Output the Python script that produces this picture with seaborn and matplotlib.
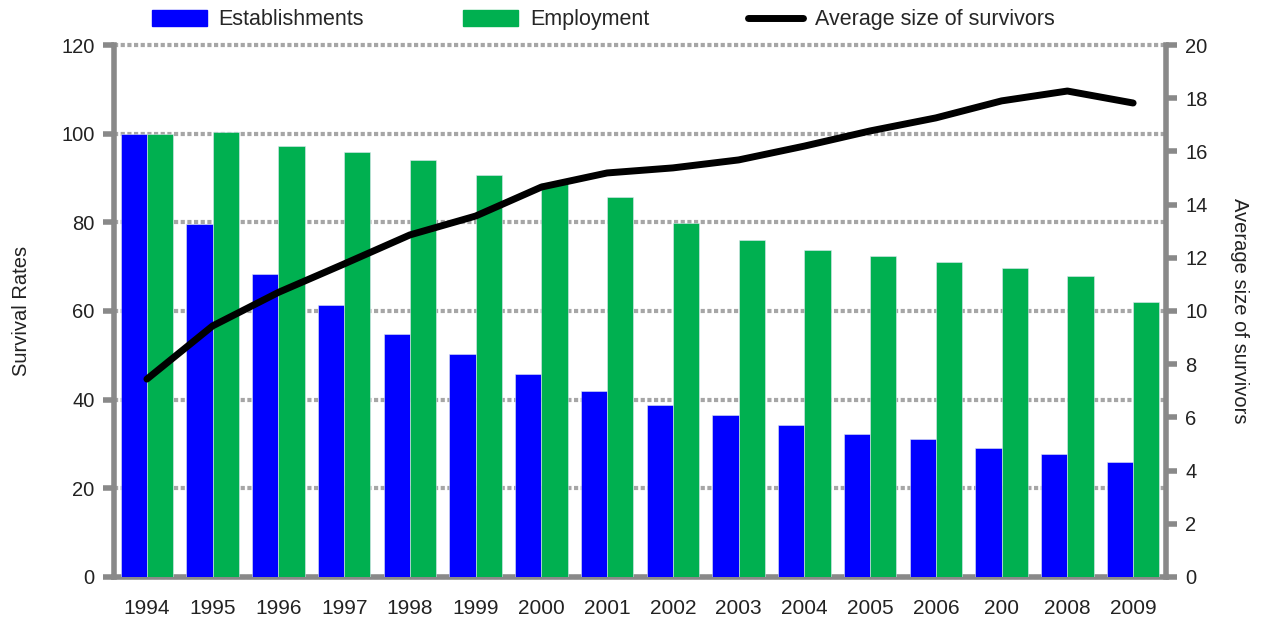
import numpy as np
import pandas as pd
import matplotlib
matplotlib.use('Agg')
import matplotlib.pyplot as plt
import seaborn as sns
from matplotlib.patches import Patch
from matplotlib.lines import Line2D

years = ['1994', '1995', '1996', '1997', '1998', '1999', '2000', '2001',
         '2002', '2003', '2004', '2005', '2006', '200', '2008', '2009']
establishments = [100, 79.6, 68.3, 61.4, 54.8, 50.3, 45.8, 42.0,
                  38.8, 36.5, 34.3, 32.3, 31.1, 29.2, 27.8, 25.9]
employment = [100, 100.4, 97.2, 95.9, 94.1, 90.7, 88.9, 85.7,
              79.9, 76.0, 73.8, 72.4, 71.1, 69.7, 67.9, 62.0]
avg_size = [7.44, 9.44, 10.7, 11.77, 12.86, 13.57, 14.66, 15.19,
            15.38, 15.68, 16.2, 16.77, 17.26, 17.9, 18.27, 17.82]

df = pd.DataFrame({
    'Year': years * 2,
    'Rate': establishments + employment,
    'Series': ['Establishments'] * len(years) + ['Employment'] * len(years),
})

sns.set_style('white')
plt.rcParams['font.family'] = ['Liberation Sans', 'DejaVu Sans']
grey = '#898989'
txt = '#222222'

fig = plt.figure(figsize=(12.63, 6.21), dpi=100)
ax = fig.add_axes([0.0903, 0.0709, 0.8329, 0.8566])

sns.barplot(data=df, x='Year', y='Rate', hue='Series', order=years,
            palette={'Establishments': '#0000FF', 'Employment': '#00B050'},
            saturation=1, width=0.8, edgecolor='#dde6f0', linewidth=0.4,
            ax=ax, legend=False, zorder=3)

ax.set_xlim(-0.5, len(years) - 0.5)
ax.set_ylim(0, 120)
ax.set_yticks(range(0, 121, 20))
ax.yaxis.grid(True, color='#a6a6a6', linestyle=(0, (1, 0.6)), linewidth=3, zorder=0)
for gl in ax.get_ygridlines():
    gl.set_clip_on(False)
ax.set_axisbelow(True)
ax.set_xlabel('')
ax.set_ylabel('Survival Rates', fontsize=14.5, color=txt, labelpad=22)

ax.set_xticks(np.arange(-0.5, len(years), 1), minor=True)
ax.tick_params(axis='x', which='major', length=0, labelsize=15, pad=16, colors=txt)
ax.tick_params(axis='x', which='minor', length=8, width=4, color=grey, direction='out')
ax.tick_params(axis='y', length=8, width=4, color=grey, direction='out', labelsize=14.5,
               labelcolor=txt, pad=6)

for side in ['left', 'bottom']:
    ax.spines[side].set_color(grey)
    ax.spines[side].set_linewidth(4)
ax.spines['top'].set_visible(False)
ax.spines['right'].set_visible(False)

ax2 = ax.twinx()
sns.lineplot(x=np.arange(len(years)), y=avg_size, color='black', linewidth=5,
             ax=ax2, solid_capstyle='round')
ax2.set_ylim(0, 20)
ax2.set_yticks(range(0, 21, 2))
ax2.set_ylabel('Average size of survivors', fontsize=14.5, color=txt,
               rotation=270, labelpad=30)
ax2.tick_params(axis='y', length=8, width=4, color=grey, direction='out', labelsize=14.5,
                labelcolor=txt, pad=6)
ax2.spines['right'].set_color(grey)
ax2.spines['right'].set_linewidth(4)
for side in ['left', 'top', 'bottom']:
    ax2.spines[side].set_visible(False)

handles = [Patch(color='#0000FF'), Patch(color='#00B050'),
           Line2D([0], [0], color='black', linewidth=5)]
labels = ['Establishments', 'Employment', 'Average size of survivors']
fig.legend(handles, labels, loc='upper left', bbox_to_anchor=(0.105, 1.016), ncol=3,
           frameon=False, fontsize=15.5, handlelength=2.55, handleheight=0.75,
           columnspacing=4.6, handletextpad=0.55)

fig.savefig('out.png', dpi=100)
